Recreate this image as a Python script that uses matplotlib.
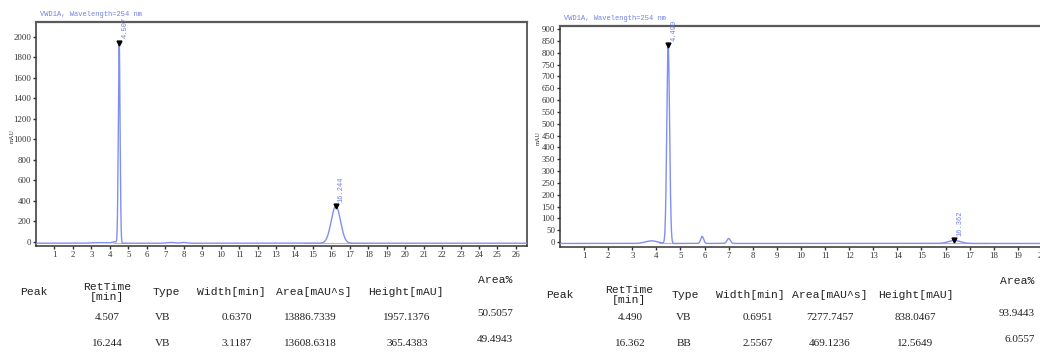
import numpy as np
import matplotlib
matplotlib.use("Agg")
import matplotlib.pyplot as plt

# ---- peak tables -------------------------------------------------------
headers = ["Peak", "RetTime\n[min]", "Type", "Width[min]", "Area[mAU^s]", "Height[mAU]", "Area%"]

a_rt = [4.507, 16.244]
a_type = ["VB", "VB"]
a_width = [0.6370, 3.1187]
a_area = [13886.7339, 13608.6318]
a_height = [1957.1376, 365.4383]
a_pct = [50.5057, 49.4943]

b_rt = [4.490, 16.362]
b_type = ["VB", "BB"]
b_width = [0.6951, 2.5567]
b_area = [7277.7457, 469.1236]
b_height = [838.0467, 12.5649]
b_pct = [93.9443, 6.0557]

# small unlabelled features in each trace (time, height, sigma)
a_minor_rt = [3.5, 4.25, 7.3, 8.0]
a_minor_h = [6, 14, 7, 7]
a_minor_sd = [0.45, 0.10, 0.20, 0.15]
a_offset = -12

b_minor_rt = [3.8, 5.9, 7.0]
b_minor_h = [11, 30, 21]
b_minor_sd = [0.25, 0.06, 0.07]
b_offset = -6

x_ticks = list(range(1, 27))
a_yticks = list(range(0, 2001, 200))
b_yticks = list(range(0, 901, 50))
title = "VWD1A, Wavelength=254 nm"

TRACE = "#8090f0"
LABEL = "#6f80e6"
W, H = 1040, 360


def fx(x):
    return x / W


def fy(y):
    return 1 - y / H


def signal(t, rts, heights, areas, minor_rt, minor_h, minor_sd, offset):
    y = np.full_like(t, float(offset))
    for rt, h, ar in zip(rts, heights, areas):
        sd = ar / 60.0 / (h * np.sqrt(2 * np.pi))
        y += h * np.exp(-0.5 * ((t - rt) / sd) ** 2)
    for rt, h, sd in zip(minor_rt, minor_h, minor_sd):
        y += h * np.exp(-0.5 * ((t - rt) / sd) ** 2)
    return y


def chromatogram(ax, rts, heights, areas, widths, minor, offset, ylim, yticks, title_xy, ylab_xy):
    t = np.linspace(0.0, 26.6, 6000)
    y = signal(t, rts, heights, areas, *minor, offset)
    ax.plot(t, y, color=TRACE, lw=1.0, zorder=3)
    # integration baselines under each peak
    for rt, wd in zip(rts, widths):
        sd = wd / 4.0
        ax.plot([rt - 2.2 * sd, rt + 2.2 * sd], [offset, offset], color="#e8a0b8", lw=0.8, zorder=2)
    for rt, h in zip(rts, heights):
        top = h + offset
        ax.plot(rt, top, marker="v", color="black", ms=3.5, zorder=4, clip_on=False)
        ax.annotate(f"{rt:.3f}", (rt, top), xytext=(4, 3), textcoords="offset points",
                    rotation=90, ha="center", va="bottom", fontsize=5, color=LABEL,
                    family="Liberation Mono", zorder=5)
    ax.set_xlim(0, 26.6)
    ax.set_ylim(*ylim)
    ax.set_xticks(x_ticks)
    ax.set_yticks(yticks)
    ax.tick_params(direction="out", length=2.5, width=1, labelsize=6.3, pad=1, colors="#333333")
    for lab in ax.get_xticklabels() + ax.get_yticklabels():
        lab.set_family("Liberation Serif")
    for s in ax.spines.values():
        s.set_color("#333333")
        s.set_linewidth(1.1)
    ax.spines["top"].set_color("#5a5a5a")
    ax.spines["top"].set_linewidth(1.6)
    ax.text(*title_xy, title, transform=ax.figure.transFigure, fontsize=5,
            color=LABEL, family="Liberation Mono", va="center", ha="left")
    ax.text(*ylab_xy, "mAU", transform=ax.figure.transFigure, fontsize=4.5,
            color="#333333", family="Liberation Serif", rotation=90, va="center", ha="center")


fig = plt.figure(figsize=(10.4, 3.6), dpi=100)

ax1 = fig.add_axes([fx(36), fy(246), fx(527 - 36), (246 - 22) / H])
chromatogram(ax1, a_rt, a_height, a_area, a_width,
             (a_minor_rt, a_minor_h, a_minor_sd), a_offset,
             (-39, 2146), a_yticks, (fx(40), fy(14)), (fx(12), fy(136)))

ax2 = fig.add_axes([fx(560), fy(247), 641 / W, (247 - 26) / H])
chromatogram(ax2, b_rt, b_height, b_area, b_width,
             (b_minor_rt, b_minor_h, b_minor_sd), b_offset,
             (-21, 913), b_yticks, (fx(564), fy(18)), (fx(538), fy(138)))

# ---- tables -------------------------------------------------------------
HFONT = "Liberation Mono"
VFONT = "Liberation Serif"


def table(head_x, val_x, pct_x, head_y, area_head_y, row_y, pct_row_y, rt, typ, wd, ar, ht, pct):
    for i, h in enumerate(headers[:-1]):
        fig.text(fx(head_x[i]), fy(head_y), h, ha="center", va="center",
                 fontsize=8.2, family=HFONT, color="#222222", linespacing=0.95)
    fig.text(fx(pct_x), fy(area_head_y), headers[-1], ha="right", va="center",
             fontsize=8.2, family=HFONT, color="#222222")
    for r in range(len(rt)):
        vals = [f"{rt[r]:.3f}", typ[r], f"{wd[r]:.4f}", f"{ar[r]:.4f}", f"{ht[r]:.4f}"]
        for i, v in enumerate(vals):
            fig.text(fx(val_x[i]), fy(row_y[r]), v, ha="center",
                     va="center", fontsize=8, family=VFONT, color="#222222")
        fig.text(fx(pct_x + 1), fy(pct_row_y[r]), f"{pct[r]:.4f}", ha="right", va="center",
                 fontsize=8, family=VFONT, color="#222222")


table([34, 107, 166, 231, 314, 406], [107, 163, 237, 310, 407], 512, 292, 280,
      [317, 343], [313, 340], a_rt, a_type, a_width, a_area, a_height, a_pct)
table([560, 629, 685, 750, 830, 916], [630, 684, 758, 830, 915], 1034, 295, 281,
      [317, 343], [313, 340], b_rt, b_type, b_width, b_area, b_height, b_pct)

fig.savefig("out.png", dpi=100, facecolor="white")
